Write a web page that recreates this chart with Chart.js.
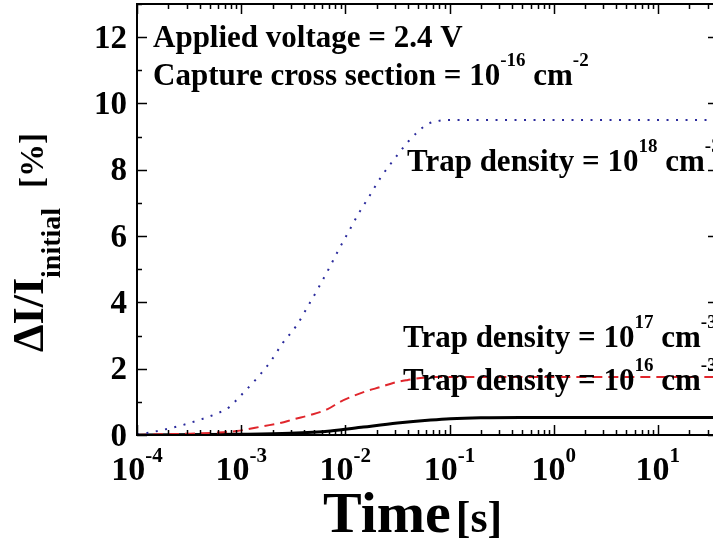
<!DOCTYPE html>
<html>
<head>
<meta charset="utf-8">
<style>
  html, body { margin: 0; padding: 0; background: #fff; overflow: hidden; }
  #wrap { width: 713px; height: 544px; overflow: hidden; position: relative; }
  canvas { display: block; }
</style>
<script src="https://cdn.jsdelivr.net/npm/chart.js@4/dist/chart.umd.min.js"></script>
</head>
<body>
<div id="wrap"><canvas id="c" width="740" height="544"></canvas></div>
<script>
// Relative current change vs. time for three trap densities
// (applied voltage 2.4 V, capture cross section 1e-16 cm^2)

// trap density 1e18 cm^-3
const time18 = [1e-4, 1.25e-4, 1.86e-4, 2.75e-4, 4.2e-4, 6.3e-4, 7.7e-4, 9.3e-4, 1.36e-3, 1.9e-3,
  2.5e-3, 3.4e-3, 4.4e-3, 5.5e-3, 6.9e-3, 8.5e-3, 1.07e-2, 1.33e-2, 1.7e-2, 2.2e-2,
  2.95e-2, 4.04e-2, 4.9e-2, 6.2e-2, 7.7e-2, 9.5e-2, 1, 37.8];
const delta18 = [0.02, 0.06, 0.17, 0.30, 0.48, 0.69, 0.84, 1.10, 1.65, 2.20,
  2.77, 3.30, 3.90, 4.43, 5.00, 5.55, 6.12, 6.66, 7.20, 7.78,
  8.32, 8.86, 9.13, 9.38, 9.47, 9.50, 9.50, 9.50];

// trap density 1e17 cm^-3
const time17 = [1e-4, 1.66e-4, 3.2e-4, 5.6e-4, 9.1e-4, 1.66e-3, 2.37e-3, 3.24e-3, 4.57e-3, 6.76e-3,
  8.9e-3, 1.2e-2, 1.62e-2, 2.19e-2, 2.88e-2, 3.98e-2, 5.25e-2, 7.7e-2, 1, 37.8];
const delta17 = [0, 0.02, 0.04, 0.07, 0.12, 0.27, 0.36, 0.48, 0.60, 0.78,
  1.00, 1.18, 1.33, 1.45, 1.57, 1.66, 1.72, 1.75, 1.75, 1.75];

// trap density 1e16 cm^-3
const time16 = [1e-4, 1e-3, 2.95e-3, 7.2e-3, 1.49e-2, 3.16e-2, 6.6e-2, 0.102, 0.2, 0.48, 37.8];
const delta16 = [0, 0.02, 0.05, 0.12, 0.24, 0.36, 0.45, 0.49, 0.52, 0.53, 0.53];

// axes
const timeMin = 1e-4, timeMax = 37.8;
const deltaMin = 0, deltaMax = 13;
const xTickExponents = [-4, -3, -2, -1, 0, 1];
const yTickLabels = [0, 2, 4, 6, 8, 10, 12];
const yMinorTicks = [1, 3, 5, 7, 9, 11, 13];

const SERIF = '"Liberation Serif", "Times New Roman", serif';

function pairs(xs, ys) { return xs.map((x, i) => ({ x: x, y: ys[i] })); }

// draw a run of text pieces with different sizes / baseline shifts
function richText(ctx, x, y, parts, align) {
  let total = 0;
  const widths = parts.map(p => {
    if (p.gap !== undefined) return p.gap;
    ctx.font = 'bold ' + p.size + 'px ' + SERIF;
    return ctx.measureText(p.text).width;
  });
  widths.forEach(w => total += w);
  let cx = x;
  if (align === 'center') cx = x - total / 2;
  else if (align === 'right') cx = x - total;
  parts.forEach((p, i) => {
    if (p.gap === undefined) {
      ctx.font = 'bold ' + p.size + 'px ' + SERIF;
      ctx.fillText(p.text, cx, y - (p.rise || 0));
    }
    cx += widths[i];
  });
}

const framePlugin = {
  id: 'frame',
  afterDatasetsDraw(chart) {
    const ctx = chart.ctx;
    const a = chart.chartArea;
    const xs = chart.scales.x, ys = chart.scales.y;
    ctx.save();
    ctx.strokeStyle = '#000';
    ctx.fillStyle = '#000';
    ctx.lineWidth = 2;
    ctx.strokeRect(a.left, a.top, a.right - a.left, a.bottom - a.top);

    // ticks point into the plot on all four sides
    ctx.lineWidth = 1.5;
    ctx.beginPath();
    const major = 10, minor = 5;
    yTickLabels.forEach(v => {
      const py = Math.round(ys.getPixelForValue(v)) + 0.5;
      ctx.moveTo(a.left, py); ctx.lineTo(a.left + major, py);
      ctx.moveTo(a.right, py); ctx.lineTo(a.right - major, py);
    });
    yMinorTicks.forEach(v => {
      const py = Math.round(ys.getPixelForValue(v)) + 0.5;
      ctx.moveTo(a.left, py); ctx.lineTo(a.left + minor, py);
      ctx.moveTo(a.right, py); ctx.lineTo(a.right - minor, py);
    });
    for (let e = -4; e <= 1; e++) {
      for (let k = 1; k <= 9; k++) {
        const v = k * Math.pow(10, e);
        if (v < timeMin || v > timeMax) continue;
        const px = Math.round(xs.getPixelForValue(v)) + 0.5;
        const len = k === 1 ? major : minor;
        ctx.moveTo(px, a.bottom); ctx.lineTo(px, a.bottom - len);
        ctx.moveTo(px, a.top); ctx.lineTo(px, a.top + len);
      }
    }
    ctx.stroke();

    // tick labels
    ctx.textBaseline = 'alphabetic';
    yTickLabels.forEach(v => {
      const py = ys.getPixelForValue(v);
      richText(ctx, 127, py + 10.5, [{ text: String(v), size: 33 }], 'right');
    });
    xTickExponents.forEach(e => {
      const px = xs.getPixelForValue(Math.pow(10, e));
      richText(ctx, px, 480, [
        { text: '10', size: 34 },
        { text: String(e), size: 21, rise: 18 }
      ], 'center');
    });

    // axis titles
    richText(ctx, 323, 532, [
      { text: 'Time', size: 58 },
      { gap: 5 },
      { text: '[s]', size: 44 }
    ], 'left');

    ctx.save();
    ctx.translate(43, 352);
    ctx.rotate(-Math.PI / 2);
    richText(ctx, 0, 0, [
      { text: '\u0394I/I', size: 44 },
      { text: 'initial', size: 28, rise: -17 },
      { gap: 20 },
      { text: '[%]', size: 33 }
    ], 'left');
    ctx.restore();

    // annotations
    richText(ctx, 153, 47, [{ text: 'Applied voltage = 2.4 V', size: 31 }], 'left');
    richText(ctx, 153, 85, [
      { text: 'Capture cross section = 10', size: 31 },
      { text: '-16', size: 19, rise: 19 },
      { text: ' cm', size: 31 },
      { text: '-2', size: 19, rise: 19 }
    ], 'left');
    const trap = (x, y, exp) => richText(ctx, x, y, [
      { text: 'Trap density = 10', size: 31 },
      { text: exp, size: 19, rise: 19 },
      { text: ' cm', size: 31 },
      { text: '-3', size: 19, rise: 19 }
    ], 'left');
    trap(407, 171, '18');
    trap(403, 347, '17');
    trap(403, 390, '16');
    ctx.restore();
  }
};

new Chart(document.getElementById('c'), {
  type: 'line',
  data: {
    datasets: [
      {
        label: 'Trap density = 1e18 cm^-3',
        data: pairs(time18, delta18),
        borderColor: '#2a2a9c',
        borderWidth: 2,
        borderDash: [2, 7.5],
        pointRadius: 0,
        cubicInterpolationMode: 'monotone'
      },
      {
        label: 'Trap density = 1e17 cm^-3',
        data: pairs(time17, delta17),
        borderColor: '#e0262c',
        borderWidth: 2,
        borderDash: [10, 6],
        pointRadius: 0,
        cubicInterpolationMode: 'monotone'
      },
      {
        label: 'Trap density = 1e16 cm^-3',
        data: pairs(time16, delta16),
        borderColor: '#000000',
        borderWidth: 3,
        pointRadius: 0,
        cubicInterpolationMode: 'monotone'
      }
    ]
  },
  options: {
    responsive: false,
    animation: false,
    devicePixelRatio: 1,
    layout: { padding: { left: 137, top: 4, right: 22, bottom: 109 } },
    plugins: { legend: { display: false }, tooltip: { enabled: false } },
    scales: {
      x: { type: 'logarithmic', min: timeMin, max: timeMax, display: false },
      y: { type: 'linear', min: deltaMin, max: deltaMax, display: false }
    }
  },
  plugins: [framePlugin]
});
</script>
</body>
</html>
